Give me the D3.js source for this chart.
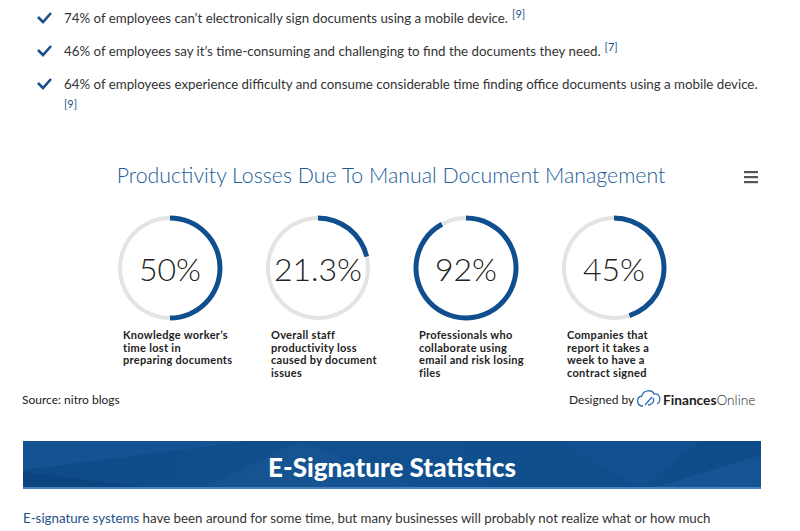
<!DOCTYPE html>
<html>
<head>
<meta charset="utf-8">
<script src="https://cdn.jsdelivr.net/npm/d3@7"></script>
<style>
  html, body { margin: 0; padding: 0; background: #fff; }
  svg { display: block; }
</style>
</head>
<body>
<div id="chart"></div>
<script>
// ---------- data ----------
const bullets = [
  "74% of employees can\u2019t electronically sign documents using a mobile device.",
  "46% of employees say it\u2019s time-consuming and challenging to find the documents they need.",
  "64% of employees experience difficulty and consume considerable time finding office documents using a mobile device."
];
const bulletRefs = ["[9]", "[7]", "[9]"];
const chartTitle = "Productivity Losses Due To Manual Document Management";
const categories = [
  ["Knowledge worker\u2019s", "time lost in", "preparing documents"],
  ["Overall staff", "productivity loss", "caused by document", "issues"],
  ["Professionals who", "collaborate using", "email and risk losing", "files"],
  ["Companies that", "report it takes a", "week to have a", "contract signed"]
];
const values = [50, 21.3, 92, 45];
const valueLabels = ["50%", "21.3%", "92%", "45%"];
const sourceText = "Source: nitro blogs";
const bannerTitle = "E-Signature Statistics";

// ---------- setup ----------
const W = 800, H = 531;
const svg = d3.select("#chart").append("svg").attr("width", W).attr("height", H);
const blue = "#0f4f8e";
const textDark = "#333333";

// ---------- bullet list ----------
const bulletY = [23, 56, 89];
const bl = svg.append("g");
bullets.forEach((t, i) => {
  const g = bl.append("g");
  g.append("path")
    .attr("d", `M38,${bulletY[i]-6} L43,${bulletY[i]-1} L51,${bulletY[i]-10}`)
    .attr("fill", "none").attr("stroke", "#1b4f8a").attr("stroke-width", 2.6);
  const tx = g.append("text")
    .attr("x", 64).attr("y", bulletY[i])
    .attr("font-family", "Lato, sans-serif").attr("font-size", 13.3)
    .attr("fill", textDark).text(t);
  if (i < 2) {
    const len = tx.node().getComputedTextLength();
    g.append("text").attr("x", 64 + len + 4).attr("y", bulletY[i] - 5)
      .attr("font-family", "Lato, sans-serif").attr("font-size", 11)
      .attr("fill", "#1b4f8a").text(bulletRefs[i]);
  } else {
    g.append("text").attr("x", 64).attr("y", 108)
      .attr("font-family", "Lato, sans-serif").attr("font-size", 11)
      .attr("fill", "#1b4f8a").text(bulletRefs[i]);
  }
});

// ---------- title ----------
svg.append("text")
  .attr("x", 391).attr("y", 183).attr("text-anchor", "middle")
  .attr("font-family", "Lato, sans-serif").attr("font-weight", 300)
  .attr("font-size", 21.3).attr("fill", "#215c98")
  .text(chartTitle);

// hamburger
const hb = svg.append("g");
[172, 177, 182].forEach(y => hb.append("rect")
  .attr("x", 744).attr("y", y - 1).attr("width", 14).attr("height", 2.2).attr("fill", "#555"));

// ---------- rings ----------
const x = d3.scalePoint().domain(d3.range(values.length)).range([170, 614]);
const angle = d3.scaleLinear().domain([0, 100]).range([0, 2 * Math.PI]);
const cy = 268;
const bgArc = d3.arc().innerRadius(48).outerRadius(52).startAngle(0).endAngle(2 * Math.PI);
const valArc = d3.arc().innerRadius(47.5).outerRadius(52.5).startAngle(0);

const rings = svg.selectAll("g.ring").data(values).join("g")
  .attr("class", "ring")
  .attr("transform", (d, i) => `translate(${x(i)},${cy})`);
rings.append("path").attr("d", bgArc()).attr("fill", "#e4e4e4");
rings.append("path").attr("d", d => valArc({ endAngle: angle(d) })).attr("fill", blue);
rings.append("text")
  .attr("text-anchor", "middle").attr("y", 13)
  .attr("font-family", "Lato, sans-serif").attr("font-weight", 300)
  .attr("font-size", 32).attr("fill", "#222")
  .text((d, i) => valueLabels[i]);

// labels
categories.forEach((lines, i) => {
  const t = svg.append("text")
    .attr("font-family", "Lato, sans-serif").attr("font-weight", 700)
    .attr("font-size", 11).attr("letter-spacing", 0.3).attr("fill", "#222");
  lines.forEach((l, j) => t.append("tspan")
    .attr("x", x(i) - 47).attr("y", 339 + j * 12.6).text(l));
});

// ---------- source & credit ----------
svg.append("text").attr("x", 22).attr("y", 404)
  .attr("font-family", "Lato, sans-serif").attr("font-size", 12).attr("fill", "#222")
  .text(sourceText);
svg.append("text").attr("x", 569).attr("y", 404)
  .attr("font-family", "Lato, sans-serif").attr("font-size", 12).attr("fill", "#222")
  .text("Designed by");
// logo icon
svg.append("path")
  .attr("d", "M643,406 C636,406 636,397 642,396 C643,390 652,389 654,394 C660,393 662,401 657,404 M645,405 L652,397 M648,405 C652,405 655,401 653,398")
  .attr("fill", "none").attr("stroke", "#2f6fb3").attr("stroke-width", 1.3);
const fo = svg.append("text").attr("x", 663).attr("y", 405)
  .attr("font-family", "Lato, sans-serif").attr("font-size", 13.7).attr("fill", "#222");
fo.append("tspan").attr("font-weight", 700).text("Finances");
fo.append("tspan").attr("font-weight", 300).text("Online");

// ---------- banner ----------
const defs = svg.append("defs");
const grad = defs.append("linearGradient").attr("id", "bg").attr("x1", 0).attr("x2", 1).attr("y1", 0).attr("y2", 0);
grad.append("stop").attr("offset", 0).attr("stop-color", "#0e4a87");
grad.append("stop").attr("offset", 0.5).attr("stop-color", "#11508f");
grad.append("stop").attr("offset", 1).attr("stop-color", "#0e4b88");
const bx0 = 23, bx1 = 761, by0 = 441, by1 = 489;
svg.append("rect").attr("x", bx0).attr("y", by0).attr("width", bx1 - bx0).attr("height", by1 - by0).attr("fill", "url(#bg)");
const polys = [
  [[bx0, by0], [250, by0], [bx0, 470]],
  [[bx0, 472], [160, 489], [bx0, by1]],
  [[200, by1], [300, 441], [420, by1]],
  [[560, by0], [700, by0], [640, by1]],
  [[650, by1], [761, 455], [761, by1]]
];
const polyFill = ["#1a5a9a", "#0b3f78", "#1a5796", "#135495", "#1b5c9c"];
polys.forEach((p, i) => svg.append("path").attr("d", d3.line()(p) + "Z").attr("fill", polyFill[i]).attr("opacity", 0.55));
svg.append("rect").attr("x", bx0).attr("y", by1 - 2).attr("width", bx1 - bx0).attr("height", 2).attr("fill", "#4a82bd");
svg.append("text").attr("x", 392).attr("y", 477).attr("text-anchor", "middle")
  .attr("font-family", "Lato, sans-serif").attr("font-weight", 900)
  .attr("font-size", 27).attr("fill", "#fff")
  .attr("textLength", 248).attr("lengthAdjust", "spacingAndGlyphs")
  .text(bannerTitle);

// ---------- bottom paragraph ----------
const para = svg.append("text").attr("x", 23).attr("y", 523)
  .attr("font-family", "Lato, sans-serif").attr("font-size", 13.3).attr("fill", textDark);
para.append("tspan").attr("fill", "#1b4f8a").text("E-signature systems");
para.append("tspan").text(" have been around for some time, but many businesses will probably not realize what or how much");
</script>
</body>
</html>
